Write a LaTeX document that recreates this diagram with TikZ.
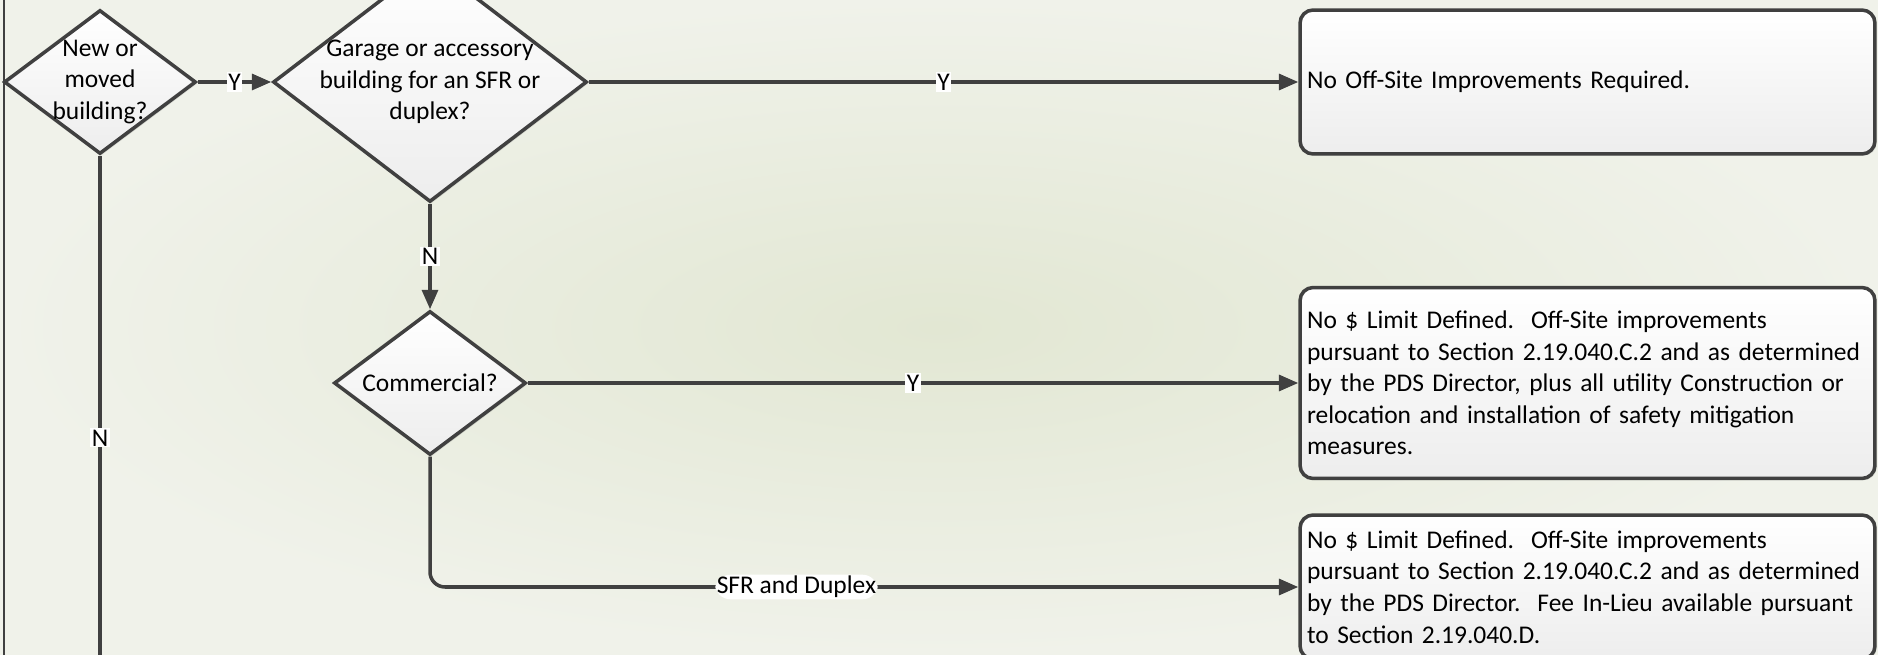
\documentclass[tikz,border=0pt]{standalone}
\usepackage{fontspec}
\setmainfont{Carlito}
\usetikzlibrary{shapes.geometric,arrows.meta,shadows}
\definecolor{linegray}{RGB}{64,64,64}
\definecolor{bgin}{RGB}{226,231,211}
\definecolor{bgout}{RGB}{240,242,234}
\begin{document}
\begin{tikzpicture}[x=0.02cm,y=-0.02cm,
    font=\fontsize{14.5}{18}\selectfont,
    decision/.style={diamond,draw=linegray,line width=2pt,inner sep=0pt,
      top color=white,bottom color=black!7,
      drop shadow={shadow xshift=1pt,shadow yshift=-1pt,opacity=0.2}},
    outcome/.style={rectangle,rounded corners=0.26cm,draw=linegray,line width=2pt,
      top color=white,bottom color=black!7,
      drop shadow={shadow xshift=1pt,shadow yshift=-1pt,opacity=0.2},
      minimum width=11.5cm,text width=11.22cm,inner sep=0.14cm,align=left},
    answer/.style={fill=white,inner sep=0.8pt},
    flow/.style={draw=linegray,line width=2pt,-{Triangle[length=11pt,width=9pt]}}]
      \clip (0,0) rectangle (1878,655);
      \shade[inner color=bgin,outer color=bgout] (0,0) rectangle (1878,655);
      \draw[linegray,line width=1.2pt] (4,0) -- (4,655);
      % decisions
      \node[decision,minimum width=3.84cm,minimum height=2.88cm,
        label={[align=center]center:{New or\\moved\\building?}}] (newbldg) at (100,82) {};
      \node[decision,minimum width=6.28cm,minimum height=4.8cm,
        label={[align=center]center:{Garage or accessory\\building for an SFR or\\duplex?}}] (garage) at (430,82) {};
      \node[decision,minimum width=3.84cm,minimum height=2.88cm,
        label={center:Commercial?}] (comm) at (430,383) {};
      % outcomes
      \node[outcome,minimum height=2.88cm] (noimpr) at (1587.5,82)
        {No Off-Site Improvements Required.};
      \node[outcome,minimum height=3.82cm] (commbox) at (1587.5,383)
        {No \$ Limit Defined.\ \ Off-Site improvements\\
         pursuant to Section 2.19.040.C.2 and as determined\\
         by the PDS Director, plus all utility Construction or\\
         relocation and installation of safety mitigation\\
         measures.};
      \node[outcome,minimum height=2.88cm] (resbox) at (1587.5,587)
        {No \$ Limit Defined.\ \ Off-Site improvements\\
         pursuant to Section 2.19.040.C.2 and as determined\\
         by the PDS Director.\ \ Fee In-Lieu available pursuant\\
         to Section 2.19.040.D.};
      \coordinate (offpage) at (100,720);
      \begin{scope}[flow]
        \draw (newbldg.east) to node[answer]{Y} (garage.west);
        \draw (garage.east) to node[answer]{Y} (noimpr.west);
        \draw (garage.south) to node[answer]{N} (comm.north);
        \draw (comm.east) to node[answer]{Y} (commbox.west);
        \draw[rounded corners=0.3cm] (comm.south) |- node[answer,pos=0.711]{SFR and Duplex} (resbox.west);
        \draw[-] (newbldg.south) to node[answer]{N} (offpage);
      \end{scope}
    \end{tikzpicture}
\end{document}
